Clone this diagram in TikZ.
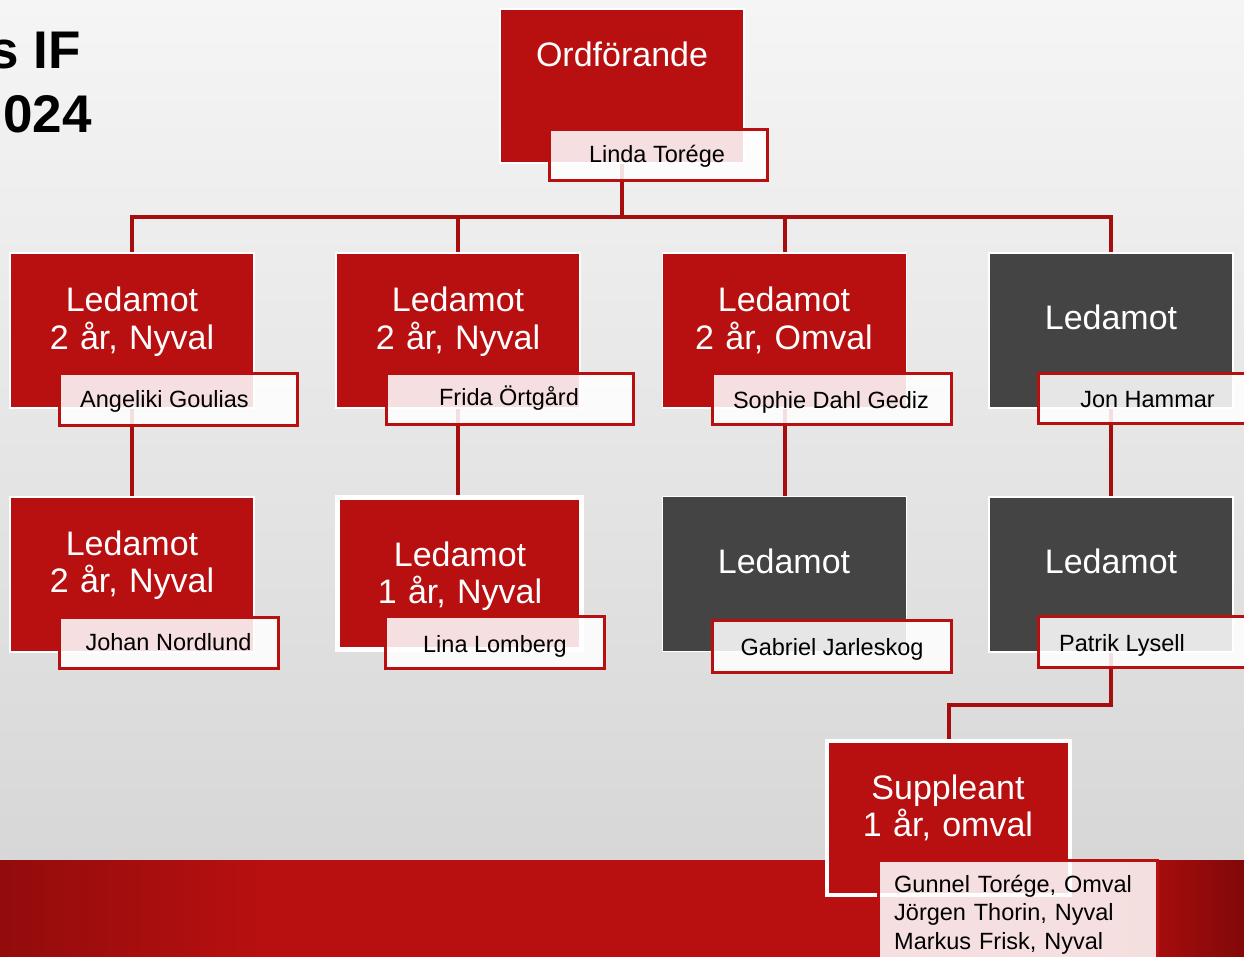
\documentclass[tikz,border=0pt]{standalone}
\usepackage{fontspec}
\setmainfont{Liberation Sans}
\definecolor{boxred}{HTML}{B80F10}
\definecolor{boxgray}{HTML}{444444}
\definecolor{connred}{HTML}{A60E0E}
\definecolor{bgtop}{HTML}{F5F5F5}
\definecolor{bgbot}{HTML}{D7D7D7}
\definecolor{banl}{HTML}{920C0C}
\definecolor{banr}{HTML}{820808}
\pgfdeclarelayer{back}
\pgfdeclarelayer{lines}
\pgfsetlayers{back,lines,main}
\tikzset{
  mainbox/.style={draw=white, line width=1.5pt, inner sep=0pt, minimum width=244pt, minimum height=155pt},
  redbox/.style={mainbox, fill=boxred},
  graybox/.style={mainbox, fill=boxgray},
  namebox/.style={draw=boxred, line width=3pt, fill=white, fill opacity=0.87, inner sep=0pt},
  roletxt/.style={text=white, font=\fontsize{34}{37.7}\selectfont, text width=240pt, align=center, inner sep=0pt, anchor=base},
  nametxt/.style={text=black, font=\fontsize{23.5}{29}\selectfont, inner sep=0pt, anchor=base},
  conn/.style={draw=connred, line width=4pt},
  titletxt/.style={text=black, font=\fontsize{53}{60}\selectfont\bfseries, inner sep=0pt, anchor=base east}
}
\begin{document}
\begin{tikzpicture}[x=1pt,y=-1pt]
\useasboundingbox (0,0) rectangle (1244,957);
\clip (0,0) rectangle (1244,957);
\begin{pgfonlayer}{back}
  \shade[top color=bgtop, bottom color=bgbot] (0,0) rectangle (1244,860);
  \fill[boxred] (0,860) rectangle (1244,957);
  \shade[left color=banl, right color=boxred] (0,860) rectangle (260,957);
  \shade[left color=boxred, right color=banr] (1110,860) rectangle (1244,957);
\end{pgfonlayer}

% title
\node[titletxt] (t1) at (81,69) {s IF};
\node[titletxt] (t2) at (92,133) {024};

% main boxes
\node[redbox, minimum height=154pt] (ord) at (622,86) {};
\node[redbox] (b1) at (132,330.5) {};
\node[redbox] (b2) at (458,330.5) {};
\node[redbox] (b3) at (784.5,330.5) {};
\node[graybox] (b4) at (1111,330.5) {};
\node[redbox] (c1) at (132,574.5) {};
\node[redbox, line width=5pt, minimum height=152pt] (c2) at (459.5,573.5) {};
\node[graybox] (c3) at (784.5,574) {};
\node[graybox] (c4) at (1111,574.5) {};
\node[redbox, line width=4pt, minimum width=243pt, minimum height=154pt] (sup) at (948.5,818) {};

% role texts
\node[roletxt] (ordt) at (622,67) {Ordförande};
\node[roletxt] (b1t) at (132,312) {Ledamot\\2 år, Nyval};
\node[roletxt] (b2t) at (458,312) {Ledamot\\2 år, Nyval};
\node[roletxt] (b3t) at (784,312) {Ledamot\\2 år, Omval};
\node[roletxt] (b4t) at (1111,330) {Ledamot};
\node[roletxt] (c1t) at (132,555) {Ledamot\\2 år, Nyval};
\node[roletxt] (c2t) at (460,566) {Ledamot\\1 år, Nyval};
\node[roletxt] (c3t) at (784,573) {Ledamot};
\node[roletxt] (c4t) at (1111,573) {Ledamot};
\node[roletxt] (supt) at (948,799) {Suppleant\\1 år, omval};

% connectors
\coordinate (bus) at (0,217);
\coordinate (bend) at (0,705);
\begin{pgfonlayer}{lines}
  \draw[conn] (ord.south) -- (ord.south |- bus);
  \draw[conn, line cap=rect] (b1.north |- bus) -- (b4.north |- bus);
  \draw[conn] (b1.north |- bus) -- (b1.north);
  \draw[conn] (b2.north |- bus) -- (b2.north);
  \draw[conn] (b3.north |- bus) -- (b3.north);
  \draw[conn] (b4.north |- bus) -- (b4.north);
  \draw[conn] (b1.south) -- (c1.north);
  \draw[conn] (b2.south) -- (b2.south |- c2.north);
  \draw[conn] (b3.south) -- (c3.north);
  \draw[conn] (b4.south) -- (c4.north);
  \draw[conn, line join=miter] (c4.south) -- (c4.south |- bend) -| (sup.north);
\end{pgfonlayer}

% name boxes
\node[namebox, minimum width=218pt, minimum height=51pt] (n0) at (658.5,155) {};
\node[namebox, minimum width=238pt, minimum height=52pt] (n1) at (178.5,399.5) {};
\node[namebox, minimum width=247pt, minimum height=51pt] (n2) at (510,399) {};
\node[namebox, minimum width=239pt, minimum height=51pt] (n3) at (832,399) {};
\node[namebox, minimum width=250pt, minimum height=50pt] (n4) at (1163.5,398.5) {};
\node[namebox, minimum width=219pt, minimum height=51pt] (m1) at (169,643) {};
\node[namebox, minimum width=219pt, minimum height=52pt] (m2) at (495,642.5) {};
\node[namebox, minimum width=239pt, minimum height=52pt] (m3) at (832,646.5) {};
\node[namebox, minimum width=250pt, minimum height=51pt] (m4) at (1163.5,642) {};
\node[namebox, minimum width=279pt, minimum height=128pt] (sn) at (1018,924.5) {};

% name texts
\node[nametxt] (n0t) at (657,163) {Linda Torége};
\node[nametxt] (n1t) at (164.5,407) {Angeliki Goulias};
\node[nametxt] (n2t) at (509,405) {Frida Örtgård};
\node[nametxt] (n3t) at (831,408) {Sophie Dahl Gediz};
\node[nametxt] (n4t) at (1147.5,407) {Jon Hammar};
\node[nametxt] (m1t) at (168.5,650) {Johan Nordlund};
\node[nametxt] (m2t) at (495,652) {Lina Lomberg};
\node[nametxt] (m3t) at (832,655) {Gabriel Jarleskog};
\node[nametxt] (m4t) at (1122,651) {Patrik Lysell};
\node[nametxt, anchor=base west, align=left, font=\fontsize{23.5}{28.8}\selectfont, text width=270pt] (snt) at (894,892) {Gunnel Torége, Omval\\Jörgen Thorin, Nyval\\Markus Frisk, Nyval};
\end{tikzpicture}
\end{document}
